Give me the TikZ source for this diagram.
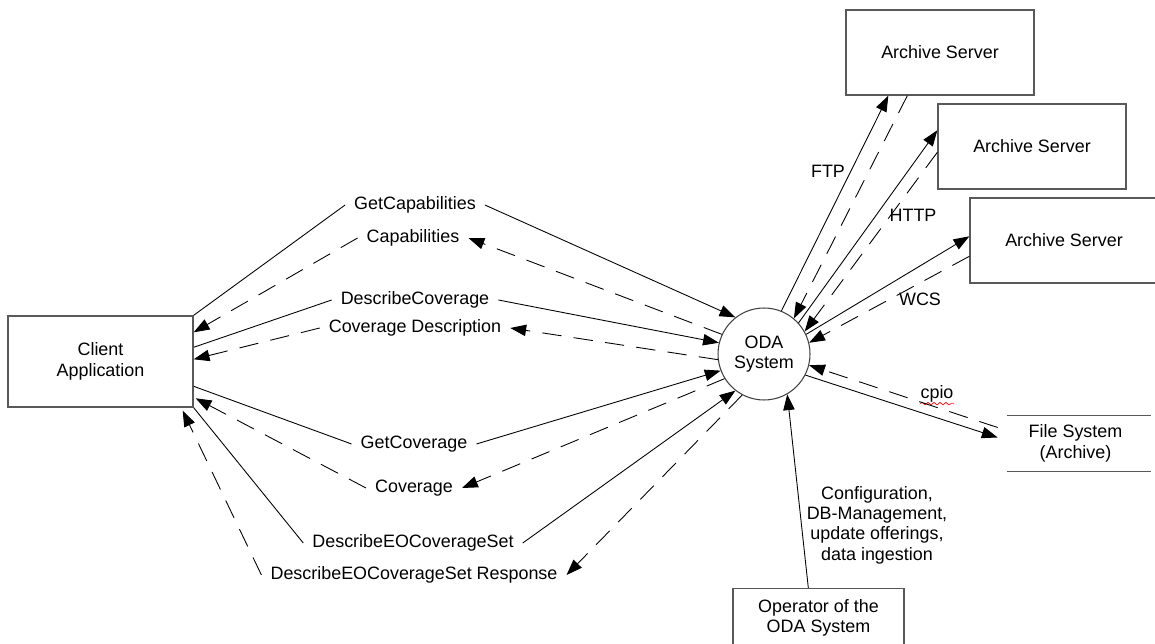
\documentclass[tikz,border=0pt]{standalone}
\usepackage{fontspec}
\setmainfont{Liberation Sans}
\usetikzlibrary{arrows.meta}
\usetikzlibrary{calc}
\usetikzlibrary{decorations.pathmorphing}

\begin{document}
\begin{tikzpicture}[x=0.02cm,y=-0.02cm,
  font=\fontsize{10.2}{11.6}\selectfont,
  box/.style={rectangle,draw=black!65,line width=0.8pt,align=center,inner sep=0pt},
  server/.style={box,minimum width=3.76cm,minimum height=1.7cm},
  msg/.style={inner xsep=5pt,inner ysep=2pt},
  seg/.style={line width=0.5pt},
  req/.style={seg,-{Triangle[length=9pt,width=6.5pt]}},
  resp/.style={req,dash pattern=on 11pt off 7pt}]
\useasboundingbox (0,0) rectangle (1155,644);
\node at (100.5, 361.5) (client) [box,minimum width=3.7cm,minimum height=1.82cm] {Client\\Application};
\node at (764, 354) (oda) [circle,draw=black!75,line width=0.6pt,minimum size=1.84cm,inner sep=0pt,align=center] {ODA\\System};
\node at (940, 52.5) (as1) [server] {Archive Server};
\node at (1032, 146.5) (as2) [server] {Archive Server};
\node at (1064, 240.5) (as3) [server] {Archive Server};
\node at (1075.5, 443.5) (fs) [align=center,minimum width=3.02cm,minimum height=1.1cm,inner sep=0pt] {File System\\(Archive)};
\node at (818.5, 618) (op) [box,minimum width=3.42cm,minimum height=1.18cm] {Operator of the\\ODA System};
\draw [draw=black!65,line width=0.8pt] ($(fs.north west)+(7,0)$) -- (fs.north east);
\draw [draw=black!65,line width=0.8pt] ($(fs.south west)+(7,0)$) -- (fs.south east);

\node at (415, 205) (getcap) [msg] {GetCapabilities};
\node at (413, 238) (caps) [msg] {Capabilities};
\node at (415, 300) (desccov) [msg] {DescribeCoverage};
\node at (415, 328) (covdesc) [msg] {Coverage Description};
\node at (414, 444) (getcov) [msg] {GetCoverage};
\node at (414, 488) (cov) [msg] {Coverage};
\node at (413, 543) (desceo) [msg] {DescribeEOCoverageSet};
\node at (414, 575) (desceoresp) [msg] {DescribeEOCoverageSet Response};
\node at (828, 171) (ftp) {FTP};
\node at (913, 215) (http) {HTTP};
\node at (920, 299) (wcs) {WCS};
\node at (937, 394) (cpio) [inner sep=0pt] {cpio};
\node at (877, 525) (config) [align=center] {Configuration,\\DB-Management,\\update offerings,\\data ingestion};
\draw [red,line width=0.4pt,decorate,decoration={snake,amplitude=0.7pt,segment length=3.4pt}] ($(cpio.base west)+(0,5)$) -- ($(cpio.base east)+(0,5)$);

\draw [seg] (client.north east) -- (getcap.west);
\draw [req] (getcap.east) -- (oda.128);
\draw [resp] (oda.155) -- (caps.east);
\draw [resp] (caps.west) -- ($(client.north east)+(0,17)$);
\draw [seg] ($(client.north east)+(0,32)$) -- (desccov.west);
\draw [req] (desccov.east) -- (oda.166);
\draw [resp] (oda.187) -- (covdesc.east);
\draw [resp] (covdesc.west) -- ($(client.north east)+(0,44)$);
\draw [seg] ($(client.north east)+(0,71)$) -- (getcov.west);
\draw [req] (getcov.east) -- (oda.201);
\draw [resp] (oda.212) -- (cov.east);
\draw [resp] (cov.west) -- ($(client.north east)+(2,83)$);
\draw [seg] (client.south east) -- (desceo.west);
\draw [req] (desceo.east) -- (oda.232);
\draw [resp] (oda.242) -- (desceoresp.east);
\draw [resp] (desceoresp.west) -- ($(client.south east)+(-11,3)$);

\draw [req] (oda.68) -- ($(as1.south west)+(43,0)$);
\draw [resp] ($(as1.south west)+(62,0)$) -- (oda.50);
\draw [req] (oda.42) -- ($(as2.north west)+(0,27)$);
\draw [resp] ($(as2.north west)+(0,49)$) -- (oda.29);
\draw [req] (oda.25) -- ($(as3.north west)+(0,39)$);
\draw [resp] ($(as3.north west)+(0,59)$) -- (oda.14);
\draw [req] (oda.333) -- ($(fs.west)+(-2,-6)$);
\draw [resp] ($(fs.west)+(-2,-16)$) -- (oda.346);
\draw [req] ($(op.north west)+(76,0)$) -- (oda.300);
\end{tikzpicture}
\end{document}
